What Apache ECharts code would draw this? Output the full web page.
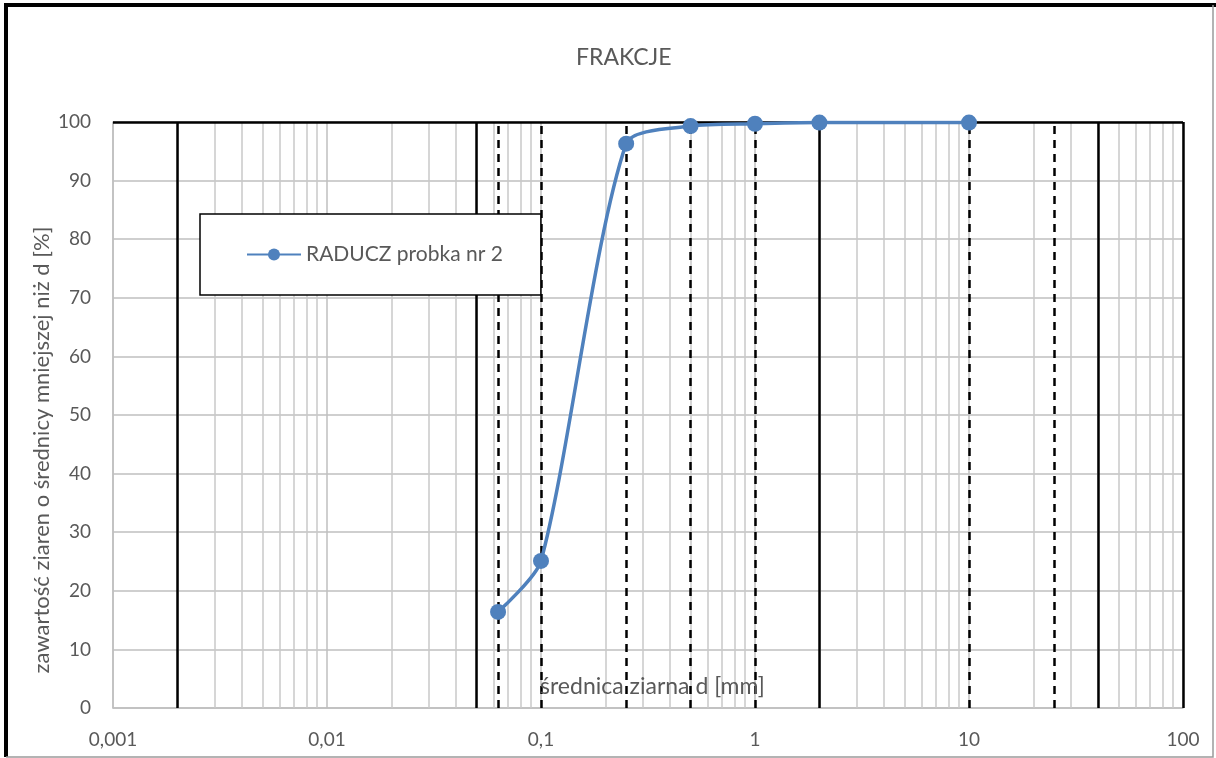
<!DOCTYPE html>
<html>
<head>
<meta charset="utf-8">
<script src="https://cdn.jsdelivr.net/npm/echarts@6/dist/echarts.min.js"></script>
<style>
    html, body { margin: 0; padding: 0; background: #fff; }
    #frakcje { width: 1216px; height: 758px; }
</style>
</head>
<body>
<div id="frakcje"></div>
<script>
// dane z sita - średnica [mm] i zawartość [%]
var srednice = [0.063, 0.1, 0.25, 0.5, 1, 2, 10];
var zawartosc = [16.4, 25.1, 96.3, 99.3, 99.7, 99.9, 99.9];
// opisy osi
var xLabels = ['0,001', '0,01', '0,1', '1', '10', '100'];
var yTicks = [0, 10, 20, 30, 40, 50, 60, 70, 80, 90, 100];
// linie granic frakcji
var granicePelne = [0.002, 0.05, 2, 40, 100];
var granicePrzerywane = [0.063, 0.1, 0.25, 0.5, 1, 10, 25];
// drobna podziałka logarytmiczna
var podzialkaDrobna = [
    0.002, 0.003, 0.004, 0.005, 0.006, 0.007, 0.008, 0.009,
    0.02, 0.03, 0.04, 0.05, 0.06, 0.07, 0.08, 0.09,
    0.2, 0.3, 0.4, 0.5, 0.6, 0.7, 0.8, 0.9,
    2, 3, 4, 5, 6, 7, 8, 9,
    20, 30, 40, 50, 60, 70, 80, 90
];

var fontName = 'Lato';
var szary = '#595959';

var frakcjeChart = echarts.init(document.getElementById('frakcje'));

var frakcjeOption = {
    animation: false,
    textStyle: { fontFamily: fontName },
    title: {
        text: 'FRAKCJE',
        left: 571,
        top: 41,
        textStyle: { color: szary, fontSize: 23, fontWeight: 'normal', fontFamily: fontName }
    },
    legend: {
        data: ['RADUCZ probka nr 2'],
        left: 200,
        top: 214,
        padding: [30, 38, 30, 46],
        itemWidth: 54,
        itemHeight: 15,
        itemGap: 5,
        backgroundColor: '#fff',
        borderColor: '#000',
        borderWidth: 1.5,
        borderRadius: 0,
        z: 10,
        textStyle: { color: szary, fontSize: 21, fontFamily: fontName }
    },
    grid: {
        left: 113,
        right: 33,
        top: 122,
        bottom: 50,
        containLabel: false
    },
    xAxis: {
        type: 'log',
        logBase: 10,
        min: 0.001,
        max: 100,
        axisLine: { show: true, lineStyle: { color: '#bfbfbf', width: 1.5 } },
        axisTick: { show: false },
        splitLine: { show: true, lineStyle: { color: '#bfbfbf', width: 1.5 } },
        axisLabel: {
            color: szary,
            fontSize: 19,
            margin: 22,
            formatter: function (v) {
                var i = Math.round(Math.log10(v)) + 3;
                return xLabels[i];
            }
        }
    },
    yAxis: {
        type: 'value',
        min: yTicks[0],
        max: yTicks[yTicks.length - 1],
        interval: 10,
        axisLine: { show: true, lineStyle: { color: '#bfbfbf', width: 1.5 } },
        axisTick: { show: false },
        splitLine: { show: true, lineStyle: { color: '#bfbfbf', width: 1.5 } },
        axisLabel: { color: szary, fontSize: 19, margin: 22 }
    },
    series: [{
        // drobna podziałka
        type: 'line',
        data: [],
        silent: true,
        z: 1,
        markLine: {
            silent: true,
            symbol: 'none',
            precision: 6,
            label: { show: false },
            animation: false,
            lineStyle: { color: '#c8c8c8', width: 1.5, type: 'solid' },
            data: podzialkaDrobna.map(function (d) { return { xAxis: d }; })
        }
    }, {
        // granice frakcji
        type: 'line',
        data: [],
        silent: true,
        z: 2,
        markLine: {
            silent: true,
            symbol: 'none',
            precision: 6,
            label: { show: false },
            animation: false,
            data: granicePelne.map(function (d) {
                return { xAxis: d, lineStyle: { color: '#000', width: 2.5, type: 'solid' } };
            }).concat(granicePrzerywane.map(function (d) {
                return { xAxis: d, lineStyle: { color: '#000', width: 2.5, type: [8, 6] } };
            })).concat([
                { yAxis: 100, lineStyle: { color: '#000', width: 2.5, type: 'solid' } }
            ])
        }
    }, {
        name: 'RADUCZ probka nr 2',
        type: 'line',
        z: 5,
        smooth: 0.25,
        symbol: 'circle',
        symbolSize: 16,
        color: '#4f81bd',
        lineStyle: { color: '#4f81bd', width: 3.5 },
        itemStyle: { color: '#4f81bd' },
        data: srednice.map(function (d, i) { return [d, zawartosc[i]]; })
    }],
    graphic: [{
        type: 'text',
        x: 540,
        y: 687,
        z: 20,
        style: { text: 'średnica ziarna d [mm]', fill: szary, fontSize: 23, fontFamily: fontName, verticalAlign: 'middle' }
    }, {
        type: 'text',
        x: 42,
        y: 450,
        rotation: Math.PI / 2,
        z: 20,
        style: {
            text: 'zawartość ziaren o średnicy mniejszej niż d [%]',
            fill: szary, fontSize: 22, fontFamily: fontName,
            align: 'center', verticalAlign: 'middle'
        }
    }, {
        type: 'polyline',
        z: 20,
        shape: { points: [[6, 757], [6, 5], [1216, 5]] },
        style: { stroke: '#000', lineWidth: 4, fill: null }
    }, {
        type: 'polyline',
        z: 20,
        shape: { points: [[6, 757], [1213, 757], [1213, 5]] },
        style: { stroke: '#9a9a9a', lineWidth: 1.5, fill: null }
    }]
};

frakcjeChart.setOption(frakcjeOption);

window.addEventListener('resize', function () {
    frakcjeChart.resize();
});
</script>
</body>
</html>
